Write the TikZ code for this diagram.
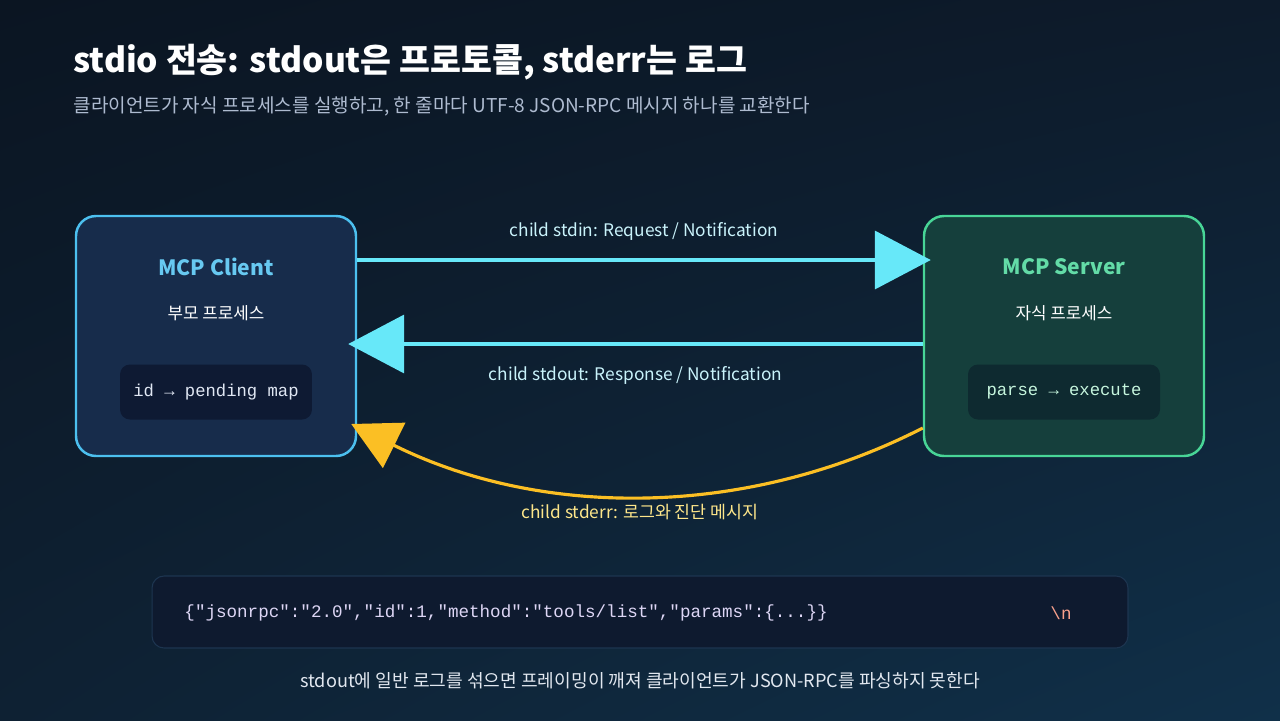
\documentclass[tikz,border=0pt]{standalone}
\usepackage{fontspec}
\setmainfont{Noto Sans CJK KR}
\setmonofont{Liberation Mono}
\usetikzlibrary{arrows.meta, positioning, calc, shadings}
\definecolor{bgtl}{HTML}{0B1522}
\definecolor{bgtr}{HTML}{0D1B2B}
\definecolor{bgbl}{HTML}{0E2133}
\definecolor{bgbr}{HTML}{103049}
\definecolor{cli}{HTML}{4CC0EF}
\definecolor{clifill}{HTML}{172C4B}
\definecolor{srv}{HTML}{48D597}
\definecolor{srvfill}{HTML}{153F3C}
\definecolor{pipe}{HTML}{67E8F9}
\definecolor{errpipe}{HTML}{FBBF24}
\definecolor{sub}{HTML}{AEBBD0}

\begin{document}
\begin{tikzpicture}[x=0.05cm, y=-0.05cm,
      proc/.style={rectangle, rounded corners=1cm, line width=3.5pt,
                   minimum width=14cm, minimum height=12cm},
      inner/.style={rectangle, rounded corners=0.5cm, minimum width=9.6cm,
                    minimum height=2.75cm, font=\fontsize{24.5}{28}\selectfont\ttfamily},
      ptitle/.style={font=\fontsize{30}{36}\selectfont\bfseries},
      prole/.style={text=white, font=\fontsize{24}{28}\selectfont},
      lbl/.style={font=\fontsize{24.6}{28}\selectfont},
      pipe/.style={line width=5.5pt, draw=pipe, -{Triangle[length=2.8cm, width=2.9cm]}}
    ]
    \shade[upper left=bgtl, upper right=bgtr, lower left=bgbl, lower right=bgbr]
      (0,0) rectangle (1280,720);

    \node[anchor=base west, text=white, font=\fontsize{47.8}{56}\selectfont\bfseries]
      (title) at (71,72) {stdio 전송: stdout은 프로토콜, stderr는 로그};
    \node[anchor=base west, text=sub, font=\fontsize{27.1}{32}\selectfont]
      (subtitle) at (71,112) {클라이언트가 자식 프로세스를 실행하고, 한 줄마다 UTF-8 JSON-RPC 메시지 하나를 교환한다};

    % processes
    \node[proc, draw=cli, fill=clifill] (client) at (216,336) {};
    \node[ptitle, text=cli!85!white] (cname) at (216,267) {MCP Client};
    \node[prole] (crole) at (216,313) {부모 프로세스};
    \node[inner, fill={rgb,255:red,14;green,26;blue,51}, text={rgb,255:red,224;green,231;blue,243}]
      (cmap) at (216,392) {id → pending map};

    \node[proc, draw=srv, fill=srvfill] (server) at (1064,336) {};
    \node[ptitle, text=srv!85!white] (sname) at (1064,267) {MCP Server};
    \node[prole] (srole) at (1064,313) {자식 프로세스};
    \node[inner, fill={rgb,255:red,14;green,42;blue,48}, text={rgb,255:red,198;green,246;blue,222}]
      (sexec) at (1064,392) {parse → execute};

    % pipes
    \draw[pipe] ([yshift=3.8cm]client.east) -- ([xshift=0.4cm, yshift=3.8cm]server.west)
      node[lbl, midway, above=0.75cm, text={rgb,255:red,201;green,243;blue,251}] (inlbl) {child stdin: Request / Notification};
    \draw[pipe] ([yshift=-0.4cm]server.west) -- ([xshift=-0.45cm, yshift=-0.4cm]client.east)
      node[lbl, midway, below=0.9cm, text={rgb,255:red,201;green,243;blue,251}] (outlbl) {child stdout: Response / Notification};
    \draw[line width=4.5pt, draw=errpipe, -{Triangle[length=2.4cm, width=2.5cm]}]
      ([yshift=-4.6cm]server.west) .. controls (745,519) and (540,518) .. ([xshift=-0.3cm, yshift=-4.4cm]client.east);
    \node[lbl, text={rgb,255:red,253;green,230;blue,138}] (errlbl) at (640,512) {child stderr: 로그와 진단 메시지};

    % framing
    \node[rectangle, rounded corners=0.6cm, minimum width=48.8cm, minimum height=3.6cm,
          fill={rgb,255:red,14;green,26;blue,47}, draw={rgb,255:red,29;green,53;blue,80}, line width=1.5pt]
      (frame) at (640,612) {};
    \node[anchor=west, font=\fontsize{25}{28}\selectfont\ttfamily, text={rgb,255:red,221;green,214;blue,245}]
      (json) at (182,613) {\{"jsonrpc":"2.0","id":1,"method":"tools/list","params":\{...\}\}};
    \node[font=\fontsize{25}{28}\selectfont\ttfamily, text={rgb,255:red,248;green,160;blue,140}]
      (nl) at (1061,613) {\textbackslash n};
    \node[text={rgb,255:red,226;green,232;blue,240}, font=\fontsize{25.8}{30}\selectfont]
      (note) at (640,681) {stdout에 일반 로그를 섞으면 프레이밍이 깨져 클라이언트가 JSON-RPC를 파싱하지 못한다};
  \end{tikzpicture}
\end{document}
